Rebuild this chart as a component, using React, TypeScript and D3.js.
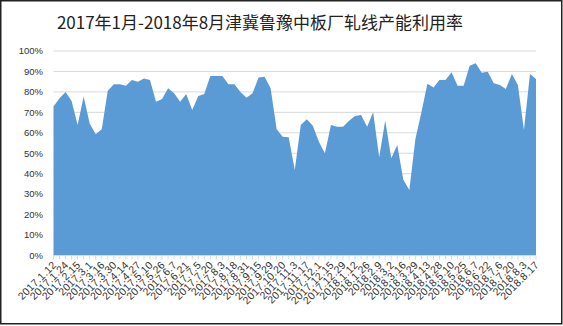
import React from "react";
import * as d3 from "d3";

const title = "2017年1月-2018年8月津冀鲁豫中板厂轧线产能利用率";

const values: number[] = [
  72.8, 76.9, 80, 75.5, 63.8, 77.7, 64.6, 59.3, 61.7, 80.6,
  83.7, 83.7, 83, 85.8, 85, 86.6, 85.8, 75.2, 76.5, 81.8,
  79.3, 75.2, 79, 71.1, 78, 79, 87.8, 87.8, 87.8, 83.7,
  83.7, 80, 77.2, 79.3, 87.1, 87.4, 81.8, 61.7, 58.1, 57.8,
  41.8, 63.8, 66.6, 63.5, 55.6, 50, 63.8, 63, 63, 65.9,
  68.2, 68.7, 63, 70, 48, 66, 47.5, 54, 37, 32,
  57, 70, 84, 82.2, 85.8, 85.8, 89.6, 83, 83, 92.8,
  94, 89.4, 89.9, 84.2, 83.4, 81.4, 88.8, 83.4, 61.4, 88.8,
  86.3,
];

// labels shown on every second category
const tickLabels: string[] = [
  "2017.1.12", "2017.1.24", "2017.2.15", "2017.3.1", "2017.3.16", "2017.3.30",
  "2017.4.14", "2017.4.27", "2017.5.10", "2017.5.26", "2017.6.7", "2017.6.21",
  "2017.7.5", "2017.7.20", "2017.8.3", "2017.8.18", "2017.8.31", "2017.9.15",
  "2017.9.29", "2017.10.20", "2017.11.3", "2017.11.17", "2017.12.1", "2017.12.15",
  "2017.12.29", "2018.1.12", "2018.1.26", "2018.2.9", "2018.3.2", "2018.3.16",
  "2018.3.29", "2018.4.13", "2018.4.28", "2018.5.10", "2018.5.25", "2018.6.7",
  "2018.6.22", "2018.7.6", "2018.7.20", "2018.8.3", "2018.8.17",
];

const yTicks: number[] = [0, 10, 20, 30, 40, 50, 60, 70, 80, 90, 100];

const W = 563;
const H = 326;
const left = 53.5;
const right = 536;
const top = 51;
const bottom = 255.5;

export default function App() {
  const idx = values.map((_, i) => i);
  const x = d3.scalePoint<number>().domain(idx).range([left, right]);
  const y = d3.scaleLinear().domain([0, 100]).range([bottom, top]);
  const area = d3
    .area<number>()
    .x((_, i) => x(i) as number)
    .y0(bottom)
    .y1((d) => y(d));

  return (
    <div style={{ position: "fixed", left: 0, top: 0 }}>
      <svg width={W} height={H} style={{ display: "block", background: "#fff" }}>
        <rect x={0.75} y={0.75} width={W - 2} height={H - 3} fill="#fff" stroke="#222" strokeWidth={1.5} />
        <text
          x={260}
          y={29}
          textAnchor="middle"
          fontFamily="'Noto Sans CJK SC', sans-serif"
          fontSize={17}
          fill="#222"
        >
          {title}
        </text>
        {yTicks.map((t) => (
          <g key={t}>
            {t > 0 && (
              <line x1={left} x2={right} y1={y(t)} y2={y(t)} stroke="#d9d9d9" strokeWidth={1} />
            )}
            <text
              x={43}
              y={y(t)}
              dy="0.35em"
              textAnchor="end"
              fontFamily="'Liberation Sans', Arial, sans-serif"
              fontSize={9.5}
              fill="#333"
            >
              {t}%
            </text>
          </g>
        ))}
        <path d={area(values) || ""} fill="#5b9bd5" />
        <line x1={left} x2={right} y1={bottom} y2={bottom} stroke="#d9d9d9" />
        {idx.map((i) => (
          <line
            key={i}
            x1={x(i)}
            x2={x(i)}
            y1={bottom}
            y2={bottom + 4}
            stroke="#d9d9d9"
          />
        ))}
        {tickLabels.map((lab, k) => {
          const px = (x(k * 2) as number) + 1;
          const py = 263;
          return (
            <text
              key={lab}
              x={px}
              y={py}
              dy="0.35em"
              textAnchor="end"
              transform={`rotate(-45 ${px} ${py})`}
              fontFamily="'Liberation Sans', Arial, sans-serif"
              fontSize={10.5}
              letterSpacing={0.3}
              fill="#333"
            >
              {lab}
            </text>
          );
        })}
      </svg>
    </div>
  );
}
